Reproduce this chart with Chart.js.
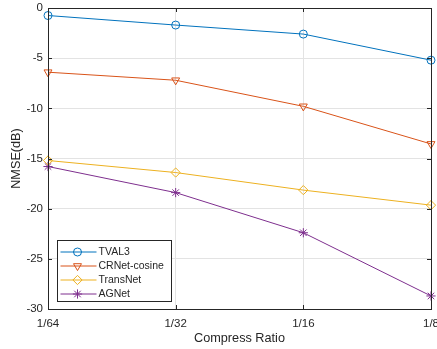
<!DOCTYPE html>
<html>
<head>
<meta charset="utf-8">
<script src="https://cdn.jsdelivr.net/npm/chart.js@4.4.0/dist/chart.umd.min.js"></script>
<style>
  html, body { margin: 0; padding: 0; background: #fff; }
  #wrap { width: 437px; height: 349px; }
</style>
</head>
<body>
<div id="wrap"><canvas id="myChart" width="437" height="349"></canvas></div>
<script>
var ratios = ["1/64", "1/32", "1/16", "1/8"];
var tval3 = [-0.75, -1.7, -2.6, -5.2];
var crnetCosine = [-6.4, -7.2, -9.8, -13.55];
var transNet = [-15.2, -16.4, -18.15, -19.65];
var agNet = [-15.8, -18.4, -22.4, -28.7];
var yTicks = [0, -5, -10, -15, -20, -25, -30];

var axisColor = "#262626";
var gridColor = "#e3e3e3";
var fontFam = "'Liberation Sans', Arial, sans-serif";

function series(label, data, color, style, rot) {
  return {
    label: label,
    data: data,
    borderColor: color,
    backgroundColor: color,
    borderWidth: 1,
    pointStyle: style,
    rotation: rot || 0,
    pointRadius: style === "circle" ? 4 : 4.6,
    pointBorderWidth: 1,
    pointBackgroundColor: style === "star" ? color : "rgba(0,0,0,0)",
    pointBorderColor: color,
    tension: 0
  };
}

// box, inner ticks and in-plot legend (MATLAB look)
var matlabBox = {
  id: "matlabBox",
  afterDraw: function (chart) {
    var ctx = chart.ctx;
    var a = chart.chartArea;
    var xs = chart.scales.x, ys = chart.scales.y;
    ctx.save();
    ctx.strokeStyle = axisColor;
    ctx.lineWidth = 1;
    ctx.strokeRect(Math.round(a.left) + 0.5, Math.round(a.top) + 0.5,
      Math.round(a.right - a.left), Math.round(a.bottom - a.top));
    ctx.beginPath();
    for (var i = 0; i < ratios.length; i++) {
      var px = Math.round(xs.getPixelForValue(i)) + 0.5;
      ctx.moveTo(px, a.bottom); ctx.lineTo(px, a.bottom - 4);
      ctx.moveTo(px, a.top); ctx.lineTo(px, a.top + 4);
    }
    yTicks.forEach(function (v) {
      var py = Math.round(ys.getPixelForValue(v)) + 0.5;
      ctx.moveTo(a.left, py); ctx.lineTo(a.left + 4, py);
      ctx.moveTo(a.right, py); ctx.lineTo(a.right - 4, py);
    });
    ctx.stroke();

    // legend
    var bx = 57.5, by = 240.5, bw = 114, bh = 61;
    ctx.fillStyle = "#fff";
    ctx.fillRect(bx, by, bw, bh);
    ctx.strokeStyle = axisColor;
    ctx.strokeRect(bx, by, bw, bh);
    ctx.font = "10.5px " + fontFam;
    ctx.textBaseline = "middle";
    chart.data.datasets.forEach(function (ds, k) {
      var ry = by + 11.5 + k * 14;
      ctx.strokeStyle = ds.borderColor;
      ctx.lineWidth = 1;
      ctx.beginPath();
      ctx.moveTo(bx + 3, ry); ctx.lineTo(bx + 39, ry);
      ctx.stroke();
      ctx.fillStyle = ds.pointBackgroundColor;
      Chart.helpers.drawPoint(ctx, {
        pointStyle: ds.pointStyle,
        rotation: ds.rotation,
        radius: ds.pointRadius,
        borderWidth: 1
      }, bx + 20, ry);
      ctx.fillStyle = axisColor;
      ctx.textAlign = "left";
      ctx.fillText(ds.label, bx + 41, ry + 0.5);
    });
    ctx.restore();
  }
};

new Chart("myChart", {
  type: "line",
  data: {
    labels: ratios,
    datasets: [
      series("TVAL3", tval3, "#0072BD", "circle"),
      series("CRNet-cosine", crnetCosine, "#D95319", "triangle", 180),
      series("TransNet", transNet, "#EDB120", "rectRot"),
      series("AGNet", agNet, "#7E2F8E", "star")
    ]
  },
  options: {
    responsive: false,
    animation: false,
    layout: { padding: { top: 8, right: 6, left: 0, bottom: 0 } },
    plugins: {
      legend: { display: false },
      title: { display: false },
      tooltip: { enabled: false }
    },
    scales: {
      x: {
        offset: false,
        afterFit: function (s) { s.height = 40; s.paddingLeft = 0; s.paddingRight = 0; },
        grid: { color: gridColor, drawTicks: false },
        border: { color: axisColor },
        ticks: {
          color: axisColor,
          padding: 8,
          maxRotation: 0,
          font: { family: fontFam, size: 11.5 }
        },
        title: {
          display: true,
          text: "Compress Ratio",
          color: axisColor,
          padding: { top: 0, bottom: 3 },
          font: { family: fontFam, size: 12.7 }
        }
      },
      y: {
        min: -30,
        max: 0,
        afterFit: function (s) { s.width = 48; s.paddingTop = 0; s.paddingBottom = 0; },
        afterBuildTicks: function (s) { s.ticks = yTicks.map(function (v) { return { value: v }; }); },
        grid: { color: gridColor, drawTicks: false },
        border: { color: axisColor },
        ticks: {
          color: axisColor,
          padding: 5,
          font: { family: fontFam, size: 11.5 }
        },
        title: {
          display: true,
          text: "NMSE(dB)",
          color: axisColor,
          padding: { top: 9, bottom: 0 },
          font: { family: fontFam, size: 12.7 }
        }
      }
    }
  },
  plugins: [matlabBox]
});
</script>
</body>
</html>
